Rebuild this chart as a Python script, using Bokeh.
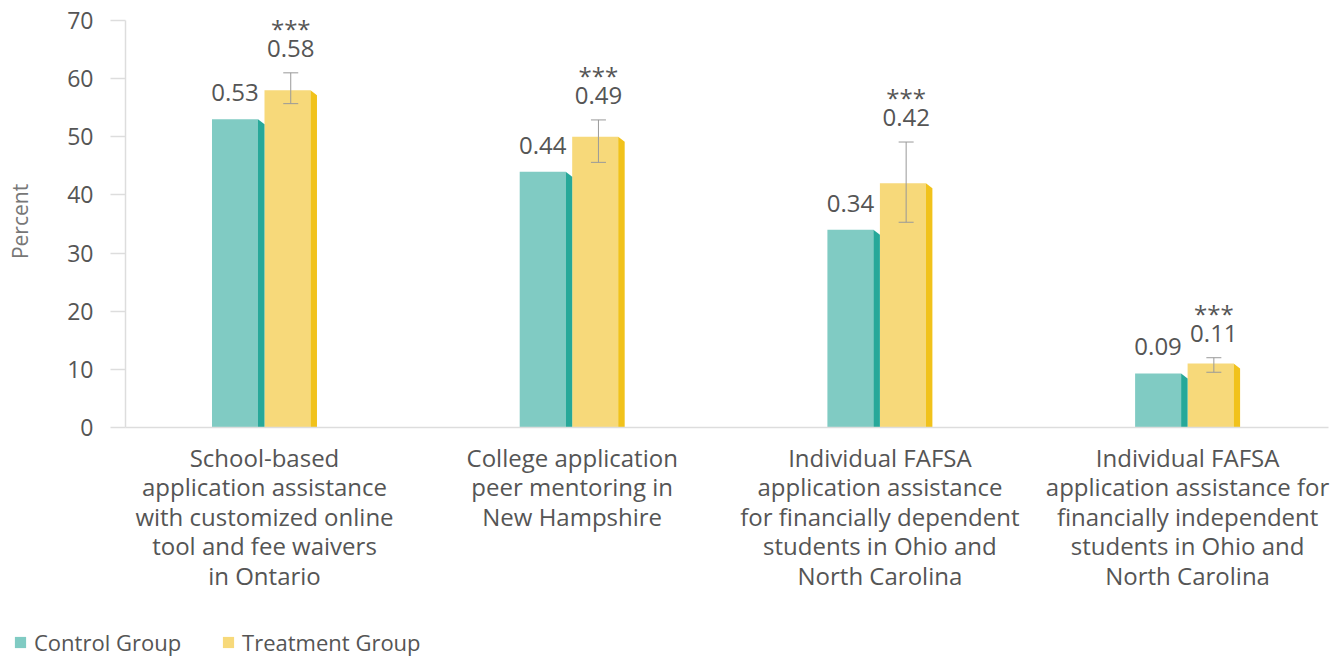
from bokeh.plotting import figure
from bokeh.models import (Range1d, FixedTicker, Whisker, TeeHead, ColumnDataSource,
                          Legend, LegendItem)
from bokeh.core.properties import value
from bokeh.embed import file_html
from bokeh.resources import INLINE

# ---------------- data ----------------
categories = [
    "School-based\napplication assistance\nwith customized online\ntool and fee waivers\nin Ontario",
    "College application\npeer mentoring in\nNew Hampshire",
    "Individual FAFSA\napplication assistance\nfor financially dependent\nstudents in Ohio and\nNorth Carolina",
    "Individual FAFSA\napplication assistance for\nfinancially independent\nstudents in Ohio and\nNorth Carolina",
]
control = [53.0, 44.0, 34.0, 9.3]
treatment = [58.0, 50.0, 42.0, 11.0]
control_labels = ["0.53", "0.44", "0.34", "0.09"]
treatment_labels = ["0.58", "0.49", "0.42", "0.11"]
significance = ["***", "***", "***", "***"]
treat_err_low = [55.7, 45.6, 35.3, 9.5]
treat_err_high = [61.0, 52.9, 49.1, 12.0]
y_ticks = [0, 10, 20, 30, 40, 50, 60, 70]
series_names = ["Control Group", "Treatment Group"]

# ---------------- styles ----------------
FONT = value("Open Sans")
TEXT_COLOR = "#555555"
AXIS_COLOR = "#dddddd"
TEAL_FACE, TEAL_SIDE = "#80cbc3", "#27a899"
YEL_FACE, YEL_SIDE = "#f7d97a", "#f1c21b"
FACE_W = 0.1495
SIDE_W = 0.0211
SLANT = 0.86
PX_PER_UNIT = 5.814

pos = [i + 1 for i in range(len(categories))]

p = figure(width=1332, height=620, output_backend="svg", toolbar_location=None,
           x_range=Range1d(0.5483, 4.4579), y_range=Range1d(0, 70.86),
           min_border_left=125, min_border_right=4, min_border_top=15,
           min_border_bottom=193)
p.outline_line_color = None
p.xgrid.visible = False
p.ygrid.visible = False
p.background_fill_color = "white"
p.border_fill_color = "white"

# bar faces
ctrl_src = ColumnDataSource(dict(
    left=[c - FACE_W - SIDE_W for c in pos],
    right=[c - SIDE_W for c in pos],
    top=control, bottom=[0] * len(pos)))
treat_src = ColumnDataSource(dict(
    left=[c for c in pos],
    right=[c + FACE_W for c in pos],
    top=treatment, bottom=[0] * len(pos)))
p.quad(left="left", right="right", top="top", bottom="bottom",
       source=ctrl_src, fill_color=TEAL_FACE, line_color=None)
p.quad(left="left", right="right", top="top", bottom="bottom",
       source=treat_src, fill_color=YEL_FACE, line_color=None)

# bar sides (3D edge)
def side_polys(vals, offset):
    xs, ys = [], []
    for c, v in zip(pos, vals):
        x0 = c + offset
        x1 = x0 + SIDE_W
        xs.append([x0, x1, x1, x0])
        ys.append([v, v - SLANT, 0, 0])
    return xs, ys

cx, cy = side_polys(control, -SIDE_W)
tx, ty = side_polys(treatment, FACE_W)
p.patches(cx, cy, fill_color=TEAL_SIDE, line_color=None)
p.patches(tx, ty, fill_color=YEL_SIDE, line_color=None)

# error bars (drawn on top of the bars)
err_x = [c + (FACE_W + SIDE_W) / 2 for c in pos]
err_src = ColumnDataSource(dict(x=err_x, lo=treat_err_low, hi=treat_err_high))
p.add_layout(Whisker(source=err_src, base="x", lower="lo", upper="hi",
                     level="overlay",
                     line_color="#999999", line_width=1,
                     upper_head=TeeHead(size=15, line_color="#999999", line_width=1),
                     lower_head=TeeHead(size=15, line_color="#999999", line_width=1)))

# value labels
ctrl_lab_x = [c - SIDE_W - FACE_W / 2 for c in pos]
ctrl_lab_y = [v + 26.5 / PX_PER_UNIT for v in control]
p.text(x=ctrl_lab_x, y=ctrl_lab_y, text=control_labels, text_font=FONT,
       text_font_size="24px", text_color=TEXT_COLOR, text_align="center",
       text_baseline="alphabetic")
treat_lab_y = [h + 24.5 / PX_PER_UNIT for h in treat_err_high]
p.text(x=err_x, y=treat_lab_y, text=treatment_labels, text_font=FONT,
       text_font_size="24px", text_color=TEXT_COLOR, text_align="center",
       text_baseline="alphabetic")
sig_y = [y + 20.0 / PX_PER_UNIT for y in treat_lab_y]
p.text(x=err_x, y=sig_y, text=significance, text_font=FONT,
       text_font_size="24px", text_color=TEXT_COLOR, text_align="center",
       text_baseline="alphabetic")

# axes
xa = p.xaxis[0]
xa.ticker = FixedTicker(ticks=pos)
xa.major_label_overrides = {c: lab for c, lab in zip(pos, categories)}
xa.axis_line_color = AXIS_COLOR
xa.axis_line_width = 1.5
xa.major_tick_line_color = None
xa.minor_tick_line_color = None
xa.major_label_text_font = "Open Sans"
xa.major_label_text_font_size = "24px"
xa.major_label_text_color = TEXT_COLOR
xa.major_label_text_line_height = 0.895
xa.major_label_standoff = 7

ya = p.yaxis[0]
ya.ticker = FixedTicker(ticks=y_ticks)
ya.bounds = (0, 70)
ya.axis_line_color = AXIS_COLOR
ya.axis_line_width = 1.5
ya.major_tick_line_color = AXIS_COLOR
ya.major_tick_line_width = 1.5
ya.major_tick_out = 15
ya.major_tick_in = 0
ya.minor_tick_line_color = None
ya.major_label_text_font = "Open Sans"
ya.major_label_text_font_size = "23px"
ya.major_label_text_color = TEXT_COLOR
ya.major_label_standoff = 17
ya.axis_label = "Percent"
ya.axis_label_text_font = "Open Sans"
ya.axis_label_text_font_size = "21px"
ya.axis_label_text_font_style = "normal"
ya.axis_label_text_color = "#777777"
ya.axis_label_standoff = 30

# legend strip: a separate root so that it can start at the far left
lg = figure(width=1332, height=37, output_backend="svg", toolbar_location=None,
            x_range=Range1d(100, 101), y_range=Range1d(100, 101),
            x_axis_type=None, y_axis_type=None,
            min_border=0, min_border_left=0, min_border_right=0,
            min_border_top=0, min_border_bottom=0)
lg.outline_line_color = None
lg.xgrid.visible = False
lg.ygrid.visible = False
lg.background_fill_color = "white"
lg.border_fill_color = "white"
lr1 = lg.quad(left="left", right="right", top="top", bottom="bottom",
              source=ctrl_src, fill_color=TEAL_FACE, line_color=None)
lr2 = lg.quad(left="left", right="right", top="top", bottom="bottom",
              source=treat_src, fill_color=YEL_FACE, line_color=None)
legend = Legend(items=[LegendItem(label=series_names[0], renderers=[lr1]),
                       LegendItem(label=series_names[1], renderers=[lr2])],
                orientation="horizontal", location=(13, 0),
                label_text_font="Open Sans", label_text_font_size="22px",
                label_text_color=TEXT_COLOR, glyph_width=14, glyph_height=14,
                label_standoff=7, spacing=40, padding=0, margin=0,
                border_line_color=None, background_fill_alpha=0)
lg.add_layout(legend)

open("out.html", "w").write(file_html([p, lg], INLINE))
